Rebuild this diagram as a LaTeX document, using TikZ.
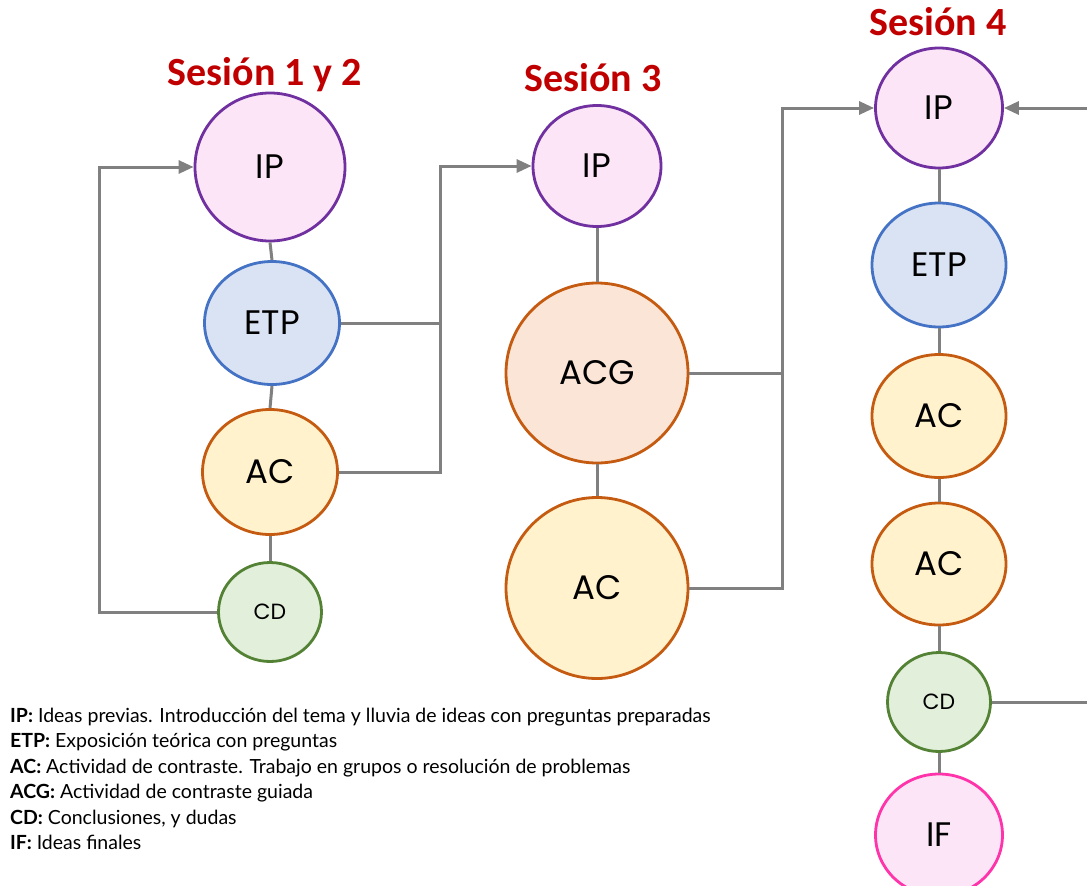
\documentclass[tikz,border=0pt]{standalone}
\usepackage{fontspec}
\setmainfont{Lato}
\newfontfamily\circfont{Poppins}
\newfontfamily\legfont{Lato}
\newfontfamily\titfont{Carlito}
\usetikzlibrary{shapes.geometric,arrows.meta}
\definecolor{ipfill}{HTML}{FBE5F7}
\definecolor{ipdraw}{HTML}{7030A0}
\definecolor{etpfill}{HTML}{DAE3F3}
\definecolor{etpdraw}{HTML}{4472C4}
\definecolor{acfill}{HTML}{FFF2CC}
\definecolor{acdraw}{HTML}{C55A11}
\definecolor{acgfill}{HTML}{FBE5D6}
\definecolor{cdfill}{HTML}{E2EFDA}
\definecolor{cddraw}{HTML}{548235}
\definecolor{ifdraw}{HTML}{FF33AA}
\definecolor{conn}{HTML}{808080}
\definecolor{titred}{HTML}{C00000}
\begin{document}
\begin{tikzpicture}[x=1pt,y=-1pt,
  bubble/.style={ellipse,inner sep=0pt,line width=2.8pt,font=\circfont\fontsize{34}{34}\selectfont},
  ipb/.style={bubble,draw=ipdraw,fill=ipfill},
  etpb/.style={bubble,draw=etpdraw,fill=etpfill},
  acb/.style={bubble,draw=acdraw,fill=acfill},
  acgb/.style={bubble,draw=acdraw,fill=acgfill},
  cdb/.style={bubble,draw=cddraw,fill=cdfill,font=\circfont\fontsize{22}{22}\selectfont},
  ifb/.style={bubble,draw=ifdraw,fill=ipfill},
  sz/.style n args={2}{minimum width=#1pt,minimum height=#2pt},
  link/.style={draw=conn,line width=3pt},
  arr/.style={link,-{Triangle[length=15pt,width=13pt]}},
  title/.style={anchor=base,text=titred,font=\titfont\bfseries\fontsize{40}{40}\selectfont},
  leg/.style={anchor=base west,inner sep=0pt,font=\legfont\fontsize{19.5}{22}\selectfont}]
\useasboundingbox (0,0) rectangle (1087,886);
% titles
\node[title] (t1) at (265,85) {Sesión 1 y 2};
\node[title] (t2) at (593,91) {Sesión 3};
\node[title] (t3) at (938,35) {Sesión 4};
% column 1
\node[ipb,sz={150}{148}] (ip1) at (270,167) {IP};
\node[etpb,sz={135}{123}] (etp1) at (272,323) {ETP};
\node[acb,sz={135}{125}] (ac1) at (270,472) {AC};
\node[cdb,sz={103}{99}] (cd1) at (270,612) {CD};
% column 2
\node[ipb,sz={128}{121}] (ip2) at (597,166) {IP};
\node[acgb,sz={182}{180}] (acg2) at (597,373) {ACG};
\node[acb,sz={182}{181}] (ac2) at (597,588) {AC};
% column 3
\node[ipb,sz={127}{120}] (ip4) at (939,108) {IP};
\node[etpb,sz={134}{124}] (etp4) at (939,265) {ETP};
\node[acb,sz={134}{123}] (ac4a) at (939,416) {AC};
\node[acb,sz={134}{122}] (ac4b) at (939,564) {AC};
\node[cdb,sz={103}{99}] (cd4) at (939,702) {CD};
\node[ifb,sz={127}{122}] (if4) at (939,835) {IF};
% vertical links
\draw[link] (ip1.south) -- (etp1.north);
\draw[link] (etp1.south) -- (ac1.north);
\draw[link] (ac1.south) -- (cd1.north);
\draw[link] (ip2.south) -- (acg2.north);
\draw[link] (acg2.south) -- (ac2.north);
\draw[link] (ip4.south) -- (etp4.north);
\draw[link] (etp4.south) -- (ac4a.north);
\draw[link] (ac4a.south) -- (ac4b.north);
\draw[link] (ac4b.south) -- (cd4.north);
\draw[link] (cd4.south) -- (if4.north);
% loop session 1-2
\coordinate (l1) at (99,612);
\draw[arr] (cd1.west) -- (l1) |- (ip1.west);
% session 1-2 to 3
\coordinate (j1) at (440,472);
\draw[link] (etp1.east) -- (etp1.east -| j1);
\draw[arr] (ac1.east) -- (j1) |- (ip2.west);
% session 3 to 4
\coordinate (j2) at (782,588);
\draw[link] (acg2.east) -- (acg2.east -| j2);
\draw[arr] (ac2.east) -- (j2) |- (ip4.west);
% right side loop (continues off picture)
\coordinate (r1) at (1087,108);
\coordinate (r2) at (1087,702);
\draw[arr] (r1) -- (ip4.east);
\draw[link] (cd4.east) -- (r2);
% legend
\node[leg] (g1) at (10,722) {\textbf{IP:} Ideas previas. Introducción del tema y lluvia de ideas con preguntas preparadas};
\node[leg] (g2) at (10,747.5) {\textbf{ETP:} Exposición teórica con preguntas};
\node[leg] (g3) at (10,773) {\textbf{AC:} Actividad de contraste. Trabajo en grupos o resolución de problemas};
\node[leg] (g4) at (10,798.5) {\textbf{ACG:} Actividad de contraste guiada};
\node[leg] (g5) at (10,824) {\textbf{CD:} Conclusiones, y dudas};
\node[leg] (g6) at (10,849.5) {\textbf{IF:} Ideas finales};
\end{tikzpicture}
\end{document}
